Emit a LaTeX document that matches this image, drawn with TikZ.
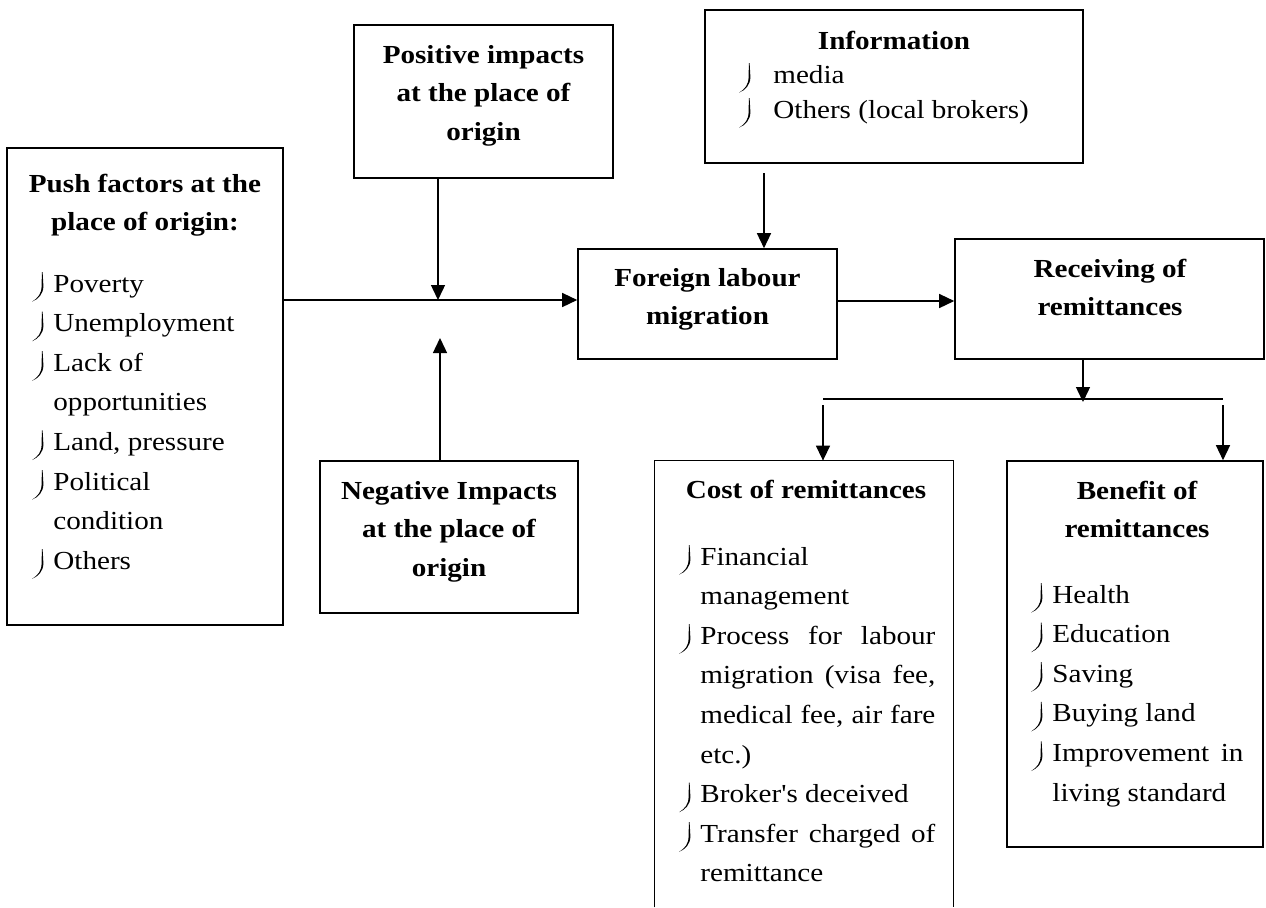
\documentclass[tikz,border=0pt]{standalone}
\usepackage{fontspec}
\setmainfont{Liberation Serif}[FakeStretch=1.12,Ligatures=TeXOff]
\usetikzlibrary{arrows.meta}
\newcommand{\jb}{\tikz[baseline=0pt]\fill[black] (0.2pt,10pt) -- (0.6pt,3pt) .. controls (0.6pt,-1pt) and (-2pt,-3.6pt) .. (-5pt,-4.8pt) .. controls (-2.1pt,-2.9pt) and (-0.3pt,-0.9pt) .. (-0.3pt,3pt) -- (-0.15pt,10pt) -- cycle;}
\newcommand{\bi}{\llap{\jb\hspace{5pt}}}
\newcommand{\bj}{\llap{\jb\hspace{11.5pt}}}
\begin{document}
\begin{tikzpicture}[x=0.5pt,y=-0.5pt,
  box/.style={draw,line width=0.8pt,inner sep=0pt},
  boxline/.style={line width=0.8pt},
  txt/.style={inner sep=0pt,font=\fontsize{13}{19.8}\selectfont},
  hd/.style={txt,anchor=base,font=\fontsize{13}{19.4}\selectfont\bfseries},
  lst/.style={txt,anchor=base west},
  conn/.style={line width=0.7pt},
  arr/.style={conn,-{Triangle[width=7pt,length=7.5pt]}}]
\fill[white] (0,0) rectangle (1266,907);
\useasboundingbox (0,0) rectangle (1266,907);

% Push factors
\node[box,minimum width=138pt,minimum height=238.5pt] (push) at (145,386.5) {};
\node[hd] (pushh) at (145,192) {\begin{tabular}[t]{@{}c@{}}Push factors at the\\place of origin:\end{tabular}};
\node[lst] (pushl) at (53,292) {\begin{tabular}[t]{@{}l@{}}\bi Poverty\\\bi Unemployment\\\bi Lack of\\opportunities\\\bi Land, pressure\\\bi Political\\condition\\\bi Others\end{tabular}};

% Positive impacts
\node[box,minimum width=129.5pt,minimum height=76.5pt] (pos) at (483.5,101.5) {};
\node[hd] (posh) at (483.5,63) {\begin{tabular}[t]{@{}c@{}}Positive impacts\\at the place of\\origin\end{tabular}};

% Negative impacts
\node[box,minimum width=129pt,minimum height=76pt] (neg) at (449,537) {};
\node[hd] (negh) at (449,499) {\begin{tabular}[t]{@{}c@{}}Negative Impacts\\at the place of\\origin\end{tabular}};

% Information
\node[box,minimum width=189pt,minimum height=76.5pt] (info) at (894,86.5) {};
\node[hd] (infoh) at (894,49) {Information};
\node[lst,font=\fontsize{13}{17.5}\selectfont] (infol) at (773,83) {\begin{tabular}[t]{@{}l@{}}\bj media\\\bj Others (local brokers)\end{tabular}};

% Foreign labour migration
\node[box,minimum width=129.5pt,minimum height=55pt] (foreign) at (707.5,304) {};
\node[hd] (foreignh) at (707.5,286) {\begin{tabular}[t]{@{}c@{}}Foreign labour\\migration\end{tabular}};

% Receiving of remittances
\node[box,minimum width=154.5pt,minimum height=60pt] (recv) at (1109.5,299) {};
\node[hd] (recvh) at (1110,277) {\begin{tabular}[t]{@{}c@{}}Receiving of\\remittances\end{tabular}};

% Cost of remittances (box runs off the bottom)
\node[inner sep=0pt,minimum width=149pt,minimum height=223pt] (cost) at (804,684) {};
\draw[boxline] (cost.south west) -- (cost.north west) -- (cost.north east) -- (cost.south east);
\node[hd] (costh) at (806,498) {Cost of remittances};
\node[lst] (costl) at (700,565) {\begin{tabular}[t]{@{}l@{}}\bi Financial\\management\\\bi \makebox[117.5pt][s]{Process for labour}\\\makebox[117.5pt][s]{migration (visa fee,}\\\makebox[117.5pt][s]{medical fee, air fare}\\etc.)\\\bi Broker's deceived\\\bi \makebox[117.5pt][s]{Transfer charged of}\\remittance\end{tabular}};

% Benefit of remittances
\node[box,minimum width=128pt,minimum height=193pt] (benefit) at (1135,654) {};
\node[hd] (benh) at (1137,499) {\begin{tabular}[t]{@{}c@{}}Benefit of\\remittances\end{tabular}};
\node[lst] (benl) at (1052,603) {\begin{tabular}[t]{@{}l@{}}\bi Health\\\bi Education\\\bi Saving\\\bi Buying land\\\bi \makebox[95.5pt][s]{Improvement in}\\living standard\end{tabular}};

% Connectors
\coordinate (j) at (438,300);
\draw[arr] (push.east |- j) -- (foreign.west |- j);
\draw[arr] (pos.south -| j) -- (j);
\coordinate (nt) at (440,338);
\draw[arr] (neg.north -| nt) -- (nt);
\coordinate (is) at (764,173);
\draw[arr] (is) -- (is |- foreign.north);
\coordinate (fr) at (837,301);
\draw[arr] (foreign.east |- fr) -- (recv.west |- fr);
\coordinate (rb) at (1083,402);
\draw[arr] (recv.south -| rb) -- (rb);
\coordinate (bl) at (823,399);
\coordinate (br) at (1223,399);
\draw[conn] (bl) -- (br);
\coordinate (cl) at (823,405);
\coordinate (cr) at (1223,405);
\draw[arr] (cl) -- (cl |- cost.north);
\draw[arr] (cr) -- (cr |- benefit.north);
\end{tikzpicture}
\end{document}
